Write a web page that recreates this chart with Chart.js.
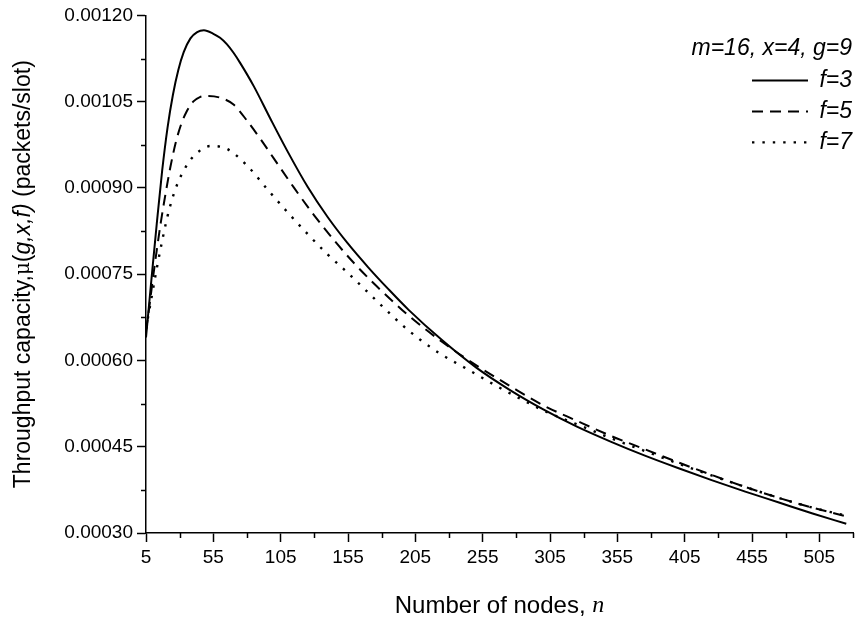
<!DOCTYPE html>
<html>
<head>
<meta charset="utf-8">
<script src="https://cdn.jsdelivr.net/npm/chart.js@4.4.1/dist/chart.umd.min.js"></script>
<style>
  html, body { margin: 0; padding: 0; background: #fff; }
</style>
</head>
<body>
<canvas id="myChart" width="860" height="631"></canvas>
<script>
// values
const nF3 = [5, 9, 13, 17, 21, 25, 29, 33, 38, 43, 48, 55, 60, 65, 70, 75, 85, 97, 110, 125, 140, 155, 170, 185, 200, 225, 250, 275, 300, 325, 350, 375, 400, 425, 450, 475, 500, 525];
const muF3 = [0.000640, 0.000740, 0.000838, 0.000930, 0.001005, 0.001062, 0.001105, 0.001136, 0.001160, 0.001171, 0.001174, 0.001168, 0.001161, 0.001150, 0.001135, 0.001117, 0.001077, 0.001022, 0.000964, 0.000902, 0.000849, 0.000803, 0.000762, 0.000724, 0.000688, 0.000635, 0.000588, 0.000549, 0.000515, 0.000485, 0.000459, 0.000435, 0.000413, 0.000392, 0.000372, 0.000353, 0.000334, 0.000316];

const nF5 = [5, 7, 10, 13, 16, 19, 23, 27, 31, 35, 40, 45, 51, 60, 70, 80, 90, 100, 115, 130, 145, 160, 175, 190, 200, 225, 250, 275, 300, 325, 350, 375, 400, 425, 450, 475, 500, 525];
const muF5 = [0.000652, 0.000685, 0.000740, 0.000792, 0.000840, 0.000883, 0.000935, 0.000978, 0.001010, 0.001032, 0.001050, 0.001058, 0.001060, 0.001057, 0.001045, 0.001017, 0.000985, 0.000951, 0.000900, 0.000852, 0.000808, 0.000768, 0.000732, 0.000699, 0.000678, 0.000632, 0.000592, 0.000556, 0.000522, 0.000495, 0.000469, 0.000446, 0.000423, 0.000401, 0.000380, 0.000361, 0.000344, 0.000329];

const nF7 = [5, 9, 13, 17, 21, 25, 29, 33, 38, 44, 53, 65, 80, 95, 110, 125, 140, 155, 170, 185, 200, 222, 245, 265, 285, 300, 325, 350, 375, 400, 425, 450, 475, 500, 525];
const muF7 = [0.000655, 0.000708, 0.000760, 0.000808, 0.000851, 0.000885, 0.000911, 0.000930, 0.000949, 0.000963, 0.000973, 0.000968, 0.000939, 0.000898, 0.000858, 0.000820, 0.000784, 0.000752, 0.000718, 0.000684, 0.000652, 0.000614, 0.000583, 0.000556, 0.000531, 0.000513, 0.000489, 0.000465, 0.000443, 0.000421, 0.000400, 0.000380, 0.000361, 0.000344, 0.000330];

const xTicks = [5, 55, 105, 155, 205, 255, 305, 355, 405, 455, 505];
const xMinor = [30, 80, 130, 180, 230, 280, 330, 380, 430, 480, 530];
const yTicks = [0.00030, 0.00045, 0.00060, 0.00075, 0.00090, 0.00105, 0.00120];
const yMinor = [0.000375, 0.000525, 0.000675, 0.000825, 0.000975, 0.001125];

const seriesLabels = ['f=3', 'f=5', 'f=7'];
const legendHeader = 'm=16, x=4, g=9';

const SANS = '"Liberation Sans", Arial, sans-serif';

function toPts(xs, ys) {
    return xs.map((n, i) => ({ x: n, y: ys[i] }));
}

function drawSegs(ctx, segs, cx, cy) {
    // one line of text built from differently styled pieces, centred on cx
    let w = 0;
    segs.forEach(s => { ctx.font = s.f; w += ctx.measureText(s.t).width; });
    let x = cx - w / 2;
    ctx.textBaseline = 'middle';
    ctx.textAlign = 'left';
    segs.forEach(s => {
        ctx.font = s.f;
        ctx.fillText(s.t, x, cy);
        x += ctx.measureText(s.t).width;
    });
}

const extras = {
    id: 'extras',
    afterDraw(chart) {
        const { ctx, chartArea: a } = chart;
        const x = chart.scales.x, y = chart.scales.y;
        ctx.save();
        ctx.strokeStyle = '#000';
        ctx.fillStyle = '#000';
        ctx.lineWidth = 1.5;

        // minor ticks
        xMinor.forEach(v => {
            const px = Math.round(x.getPixelForValue(v)) + 0.5;
            ctx.beginPath();
            ctx.moveTo(px, a.bottom);
            ctx.lineTo(px, a.bottom + 5);
            ctx.stroke();
        });
        yMinor.forEach(v => {
            const py = Math.round(y.getPixelForValue(v)) + 0.5;
            ctx.beginPath();
            ctx.moveTo(a.left, py);
            ctx.lineTo(a.left - 5, py);
            ctx.stroke();
        });

        // axis titles
        drawSegs(ctx, [
            { t: 'Number of nodes, ', f: '24px ' + SANS },
            { t: 'n', f: 'italic 24px "Liberation Serif", serif' }
        ], (a.left + a.right) / 2, 606);

        const fs = 23;
        ctx.save();
        ctx.translate(24, (a.top + a.bottom) / 2);
        ctx.rotate(-Math.PI / 2);
        drawSegs(ctx, [
            { t: 'Throughput capacity,', f: fs + 'px ' + SANS },
            { t: 'μ', f: (fs - 3) + 'px "DejaVu Serif", serif' },
            { t: '(', f: fs + 'px ' + SANS },
            { t: 'g,x,f', f: 'italic ' + fs + 'px ' + SANS },
            { t: ')', f: 'italic ' + fs + 'px ' + SANS },
            { t: ' (packets/slot)', f: fs + 'px ' + SANS }
        ], 0, 0);
        ctx.restore();

        // legend
        const right = a.right - 1;
        ctx.font = 'italic 23px ' + SANS;
        ctx.textAlign = 'right';
        ctx.textBaseline = 'middle';
        ctx.fillText(legendHeader, right, a.top + 33);
        chart.data.datasets.forEach((ds, i) => {
            const ly = a.top + 65 + i * 31;
            ctx.fillText(seriesLabels[i], right, ly);
            ctx.save();
            ctx.lineWidth = ds.borderWidth;
            ctx.setLineDash(ds.borderDash || []);
            ctx.beginPath();
            ctx.moveTo(right - 100, ly);
            ctx.lineTo(right - 44, ly);
            ctx.stroke();
            ctx.restore();
        });
        ctx.restore();
    }
};

const ctx = document.getElementById('myChart').getContext('2d');

const myChart = new Chart(ctx, {
    type: 'line',
    data: {
        datasets: [
            { label: seriesLabels[0], data: toPts(nF3, muF3), borderColor: '#000', borderWidth: 2, borderDash: [] },
            { label: seriesLabels[1], data: toPts(nF5, muF5), borderColor: '#000', borderWidth: 2, borderDash: [11, 7] },
            { label: seriesLabels[2], data: toPts(nF7, muF7), borderColor: '#000', borderWidth: 2.4, borderDash: [2.4, 8] }
        ]
    },
    options: {
        responsive: false,
        animation: false,
        devicePixelRatio: 1,
        layout: { padding: { left: 50, right: 7, top: 14, bottom: 0 } },
        elements: {
            point: { radius: 0 },
            line: { cubicInterpolationMode: 'monotone', fill: false }
        },
        plugins: {
            legend: { display: false },
            tooltip: { enabled: false }
        },
        scales: {
            x: {
                type: 'linear',
                min: 5,
                max: 530,
                afterBuildTicks: s => { s.ticks = xTicks.map(v => ({ value: v })); },
                afterFit: s => { s.height = 98; },
                grid: { display: true, drawOnChartArea: false, drawTicks: true, tickLength: 9, tickWidth: 1.5, tickColor: '#000' },
                border: { display: true, color: '#000', width: 1.5 },
                ticks: { color: '#000', font: { family: SANS, size: 19 }, padding: 4, maxRotation: 0, autoSkip: false }
            },
            y: {
                type: 'linear',
                min: 0.0003,
                max: 0.0012,
                afterBuildTicks: s => { s.ticks = yTicks.map(v => ({ value: v })); },
                afterFit: s => { s.width = 96; },
                grid: { display: true, drawOnChartArea: false, drawTicks: true, tickLength: 9, tickWidth: 1.5, tickColor: '#000' },
                border: { display: true, color: '#000', width: 1.5 },
                ticks: { color: '#000', font: { family: SANS, size: 19 }, padding: 4, callback: v => v.toFixed(5) }
            }
        }
    },
    plugins: [extras]
});
</script>
</body>
</html>
